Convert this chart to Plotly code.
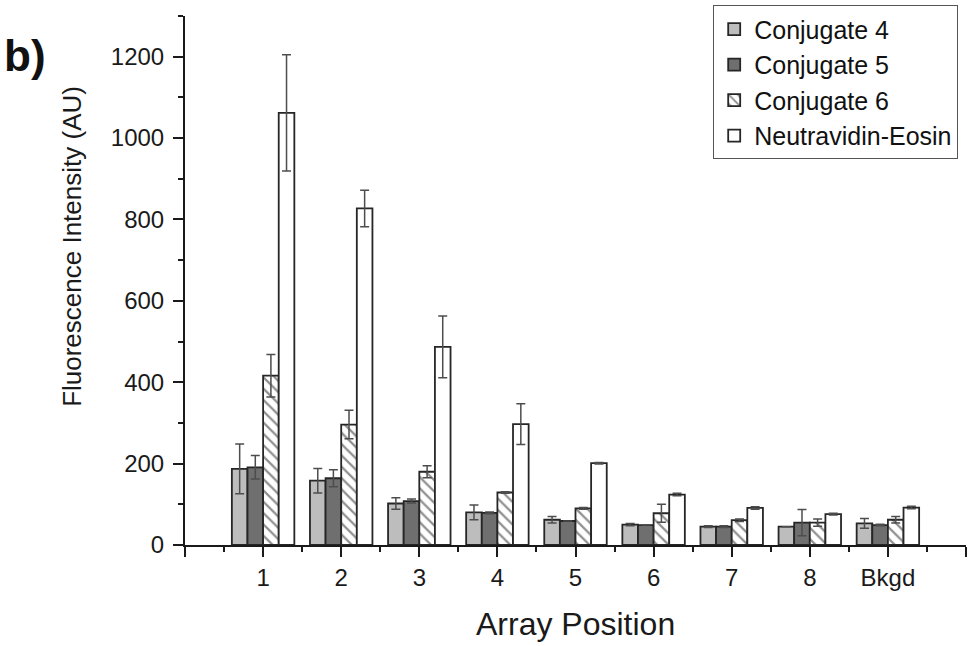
import plotly.graph_objects as go

positions = [1, 2, 3, 4, 5, 6, 7, 8, 9]
tick_vals = [0, 1, 2, 3, 4, 5, 6, 7, 8, 9, 10]
tick_text = ["", "1", "2", "3", "4", "5", "6", "7", "8", "Bkgd", ""]

conj4 = [187, 158, 102, 80, 62, 50, 45, 45, 53]
conj4_err = [61, 30, 14, 18, 8, 3, 2, 0, 12]
conj5 = [191, 164, 108, 79, 59, 49, 45, 55, 49]
conj5_err = [29, 21, 5, 2, 0, 0, 2, 32, 2]
conj6 = [416, 296, 180, 129, 90, 78, 61, 55, 62]
conj6_err = [52, 35, 15, 2, 2, 22, 3, 9, 8]
neutra = [1062, 827, 487, 297, 201, 124, 91, 76, 92]
neutra_err = [143, 45, 76, 50, 2, 3, 3, 2, 3]

FONT = "Liberation Sans, Arial, sans-serif"
OUTLINE = "#262626"
ERR = "#4d4d4d"
AX = "#1a1a1a"


def err(vals):
    return dict(type="data", array=vals, visible=True, color=ERR, thickness=1.5, width=4.5)


fig = go.Figure()
fig.add_trace(go.Bar(
    x=positions, y=conj4, name="Conjugate 4", error_y=err(conj4_err),
    marker=dict(color="#bdbdbd", line=dict(color=OUTLINE, width=1.8)),
))
fig.add_trace(go.Bar(
    x=positions, y=conj5, name="Conjugate 5", error_y=err(conj5_err),
    marker=dict(color="#6f6f6f", line=dict(color=OUTLINE, width=1.8)),
))
fig.add_trace(go.Bar(
    x=positions, y=conj6, name="Conjugate 6", error_y=err(conj6_err),
    marker=dict(color="white", line=dict(color=OUTLINE, width=1.8),
                pattern=dict(shape="\\", fgcolor="#222222", bgcolor="white",
                             size=8, solidity=0.28)),
))
fig.add_trace(go.Bar(
    x=positions, y=neutra, name="Neutravidin-Eosin", error_y=err(neutra_err),
    marker=dict(color="white", line=dict(color=OUTLINE, width=1.8)),
))

fig.update_layout(
    width=971, height=646,
    margin=dict(l=185, r=5, t=12, b=101),
    paper_bgcolor="white", plot_bgcolor="white",
    barmode="group", bargap=0.2, bargroupgap=0,
    font=dict(family=FONT, color=AX, size=24),
    showlegend=True,
    legend=dict(
        x=0.99, y=1.02, xanchor="right", yanchor="top",
        bordercolor="#555555", borderwidth=1, bgcolor="white",
        font=dict(family=FONT, size=25, color="#111111"),
        tracegroupgap=0, itemwidth=30,
    ),
)

fig.update_xaxes(
    range=[0, 10],
    tickmode="array", tickvals=tick_vals, ticktext=tick_text,
    ticks="outside", ticklen=10, tickwidth=2, tickcolor=AX,
    showline=True, linecolor=AX, linewidth=2,
    showgrid=False, zeroline=False,
    tickfont=dict(family=FONT, size=24, color=AX),
    ticklabelstandoff=0,
    minor=dict(tick0=0.5, dtick=1, ticks="outside", ticklen=5, tickwidth=2,
               tickcolor=AX, showgrid=False),
)
fig.update_yaxes(
    range=[0, 1300],
    tickmode="linear", tick0=0, dtick=200,
    ticks="outside", ticklen=10, tickwidth=2, tickcolor=AX,
    showline=True, linecolor=AX, linewidth=2,
    showgrid=False, zeroline=False,
    tickfont=dict(family=FONT, size=24, color=AX),
    ticklabelstandoff=4,
    minor=dict(dtick=100, ticks="outside", ticklen=5, tickwidth=2,
               tickcolor=AX, showgrid=False),
)

fig.add_annotation(
    text="Fluorescence Intensity (AU)", textangle=-90,
    xref="paper", yref="paper", x=-0.145, y=0.565,
    xanchor="center", yanchor="middle", showarrow=False,
    font=dict(family=FONT, size=26, color=AX),
)
fig.add_annotation(
    text="Array Position",
    xref="paper", yref="paper", x=0.5, y=-0.150,
    xanchor="center", yanchor="middle", showarrow=False,
    font=dict(family=FONT, size=32, color=AX),
)
fig.add_annotation(
    text="<b>b)</b>",
    xref="paper", yref="paper", x=-0.234, y=0.925,
    xanchor="left", yanchor="middle", showarrow=False,
    font=dict(family=FONT, size=44, color="#111111"),
)

fig.write_html("out.html")
